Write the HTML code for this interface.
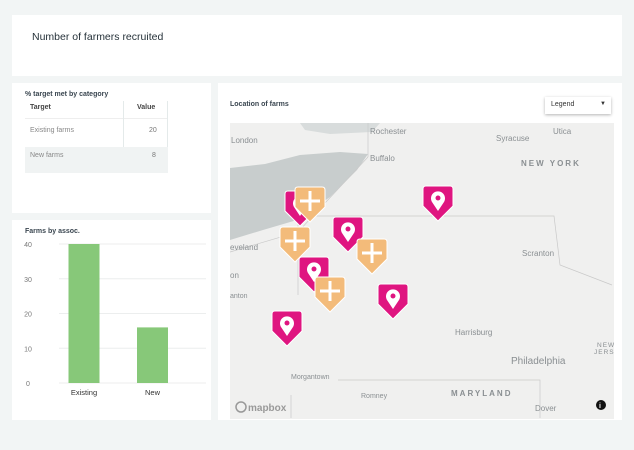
<!DOCTYPE html>
<html><head><meta charset="utf-8"><style>
body{margin:0;width:634px;height:450px;background:#f2f5f5;font-family:"Liberation Sans","DejaVu Sans",sans-serif;position:relative;overflow:hidden}
.card{position:absolute;background:#fff}
.t{position:absolute;color:#3a4650}
</style></head><body>
<div class="card" style="left:12px;top:15px;width:610px;height:61px">
 <div class="t" style="left:20px;top:16px;font-size:10.5px;color:#26323a">Number of farmers recruited</div>
</div>
<div class="card" style="left:12px;top:83px;width:199px;height:130px">
 <div class="t" style="left:13px;top:8px;font-size:7px;font-weight:bold">% target met by category</div>
 <div style="position:absolute;left:13px;top:18px;width:143px;height:72px;font-size:7px;color:#555">
  <div style="position:absolute;left:0;top:0;width:143px;height:17px;border-bottom:1px solid #eee"></div>
  <div style="position:absolute;left:98px;top:0;width:1px;height:72px;background:#e4eaea"></div>
  <div style="position:absolute;left:142px;top:0;width:1px;height:72px;background:#e4eaea"></div>
  <div style="position:absolute;left:5px;top:3px;font-weight:bold;color:#444">Target</div>
  <div style="position:absolute;left:112px;top:3px;font-weight:bold;color:#444">Value</div>
  <div style="position:absolute;left:5px;top:26px;color:#888">Existing farms</div>
  <div style="position:absolute;left:124px;top:26px;color:#777">20</div>
  <div style="position:absolute;left:0;top:46px;width:143px;height:26px;background:#f0f3f3"></div>
  <div style="position:absolute;left:5px;top:51px;color:#888">New farms</div>
  <div style="position:absolute;left:127px;top:51px;color:#777">8</div>
 </div>
</div>
<div class="card" style="left:12px;top:220px;width:199px;height:200px">
 <div class="t" style="left:13px;top:8px;font-size:7px;font-weight:bold">Farms by assoc.</div>
 <svg id="bars" width="199" height="200" style="position:absolute;left:0;top:0" font-family="Liberation Sans, sans-serif"></svg>
</div>
<div class="card" style="left:218px;top:83px;width:404px;height:337px">
 <div class="t" style="left:12px;top:18px;font-size:7px;font-weight:bold">Location of farms</div>
 <div style="position:absolute;left:327px;top:14px;width:66px;height:17px;background:#fff;box-shadow:0 1px 3px rgba(0,0,0,.3);font-size:7px;color:#333">
  <span style="position:absolute;left:6px;top:4px">Legend</span><span style="position:absolute;right:5px;top:4px;font-size:6px">▼</span></div>
</div>
<svg style="position:absolute;left:230px;top:123px" width="384" height="296" viewBox="230 123 384 296" font-family="Liberation Sans, sans-serif">
 <rect x="230" y="123" width="384" height="296" fill="#f0f0ef"/>
 <path d="M230 168 L265 164 L300 155 L340 152 L368 154 L357 170 L330 197 L297 220 L263 230 L230 240 Z" fill="#c8cdcd"/>
 <path d="M300 123 L380 123 L372 132 L330 134 L305 130 Z" fill="#d8dcdc"/>
 <path d="M230 252 L298 232 L368 157 M368 123 L368 157 M298 216 L298 295 M298 216 L554 216 L560 265 L612 285 M291 418 L291 395 M338 380 L540 380 L540 418" fill="none" stroke="#c9c9c9" stroke-width="0.7"/>
 <g font-size="8" fill="#8a8f92">
  <text x="231" y="143">London</text><text x="370" y="134">Rochester</text><text x="370" y="161">Buffalo</text>
  <text x="496" y="141">Syracuse</text><text x="553" y="134">Utica</text><text x="521" y="166" letter-spacing="2" font-weight="bold">NEW YORK</text>
  <text x="230" y="250">eveland</text><text x="230" y="278">on</text><text x="230" y="298" font-size="7">anton</text>
  <text x="522" y="256">Scranton</text><text x="455" y="335">Harrisburg</text><text x="511" y="364" font-size="10">Philadelphia</text>
  <text x="291" y="379" font-size="7">Morgantown</text><text x="361" y="398" font-size="7">Romney</text>
  <text x="451" y="396" letter-spacing="2" font-weight="bold">MARYLAND</text><text x="535" y="411">Dover</text>
  <text x="597" y="347" font-size="6.5" letter-spacing="1">NEW</text><text x="594" y="354" font-size="6.5" letter-spacing="1">JERSE</text>
  <text x="248" y="411" font-size="10" font-weight="bold" fill="#999">mapbox</text>
 </g>
 <circle cx="241" cy="407" r="5" fill="none" stroke="#999" stroke-width="1.5"/>
 <circle cx="601" cy="405" r="5" fill="#111"/><text x="599" y="408" font-size="7" fill="#fff" font-weight="bold">i</text>
 <g id="markers"></g>
</svg>
<script>
const categories=["Existing","New"];
const values=[40,16];
const ticks=[0,10,20,30,40];
const svg=document.getElementById('bars');const NS='http://www.w3.org/2000/svg';
const y=v=>383-220-v*(139/40);
const x0=47,x1=204,bw=31;
const cx=i=>72+i*68.5;
ticks.forEach(t=>{
 const l=document.createElementNS(NS,'line');l.setAttribute('x1',x0-12+12);l.setAttribute('x2',x1-10);l.setAttribute('y1',y(t));l.setAttribute('y2',y(t));l.setAttribute('stroke','#eceeee');
 
 svg.appendChild(l);
 const tx=document.createElementNS(NS,'text');tx.setAttribute('x',16);tx.setAttribute('y',y(t)+3);tx.setAttribute('font-size','7');tx.setAttribute('fill','#777');tx.setAttribute('text-anchor','middle');tx.textContent=t;
 
 svg.appendChild(tx);
});
categories.forEach((c,i)=>{
 const r=document.createElementNS(NS,'rect');r.setAttribute('x',cx(i)-bw/2);r.setAttribute('y',y(values[i]));r.setAttribute('width',bw);r.setAttribute('height',y(0)-y(values[i]));r.setAttribute('fill','#87c879');
 
 svg.appendChild(r);
 const tx=document.createElementNS(NS,'text');tx.setAttribute('x',cx(i));tx.setAttribute('y',y(0)+12);tx.setAttribute('font-size','7.5');tx.setAttribute('fill','#333');tx.setAttribute('text-anchor','middle');tx.textContent=c;
 
 svg.appendChild(tx);
});
const markerX=[300,438,348,314,393,287,310,295,372,330];
const markerY=[207,202,233,273,300,327,203,243,255,293];
const markerType=["existing","existing","existing","existing","existing","existing","new","new","new","new"];
const g=document.getElementById('markers');
markerX.forEach((mx,i)=>{
 const my=markerY[i];const pink=markerType[i]==='existing';
 const m=document.createElementNS(NS,'g');
 
 
 const p=document.createElementNS(NS,'path');
 p.setAttribute('d',`M${mx-15} ${my-13} q0 -3 3 -3 h24 q3 0 3 3 v17 l-15 15 l-15 -15 z`);
 p.setAttribute('fill',pink?'#df1580':'#f3bb7a');p.setAttribute('stroke','#fff');p.setAttribute('stroke-width','1');
 m.appendChild(p);
 if(pink){const c=document.createElementNS(NS,'path');c.setAttribute('d',`M${mx} ${my+9} l-6 -9 a7 7 0 1 1 12 0 z`);c.setAttribute('fill','#fff');m.appendChild(c);
  const d=document.createElementNS(NS,'circle');d.setAttribute('cx',mx);d.setAttribute('cy',my-4);d.setAttribute('r',2.5);d.setAttribute('fill','#df1580');m.appendChild(d);}
 else{const c=document.createElementNS(NS,'path');c.setAttribute('d',`M${mx-10} ${my-2} h20 M${mx} ${my-12} v20`);c.setAttribute('stroke','#fff');c.setAttribute('stroke-width','3');m.appendChild(c);}
 g.appendChild(m);
});
</script>
</body></html>
